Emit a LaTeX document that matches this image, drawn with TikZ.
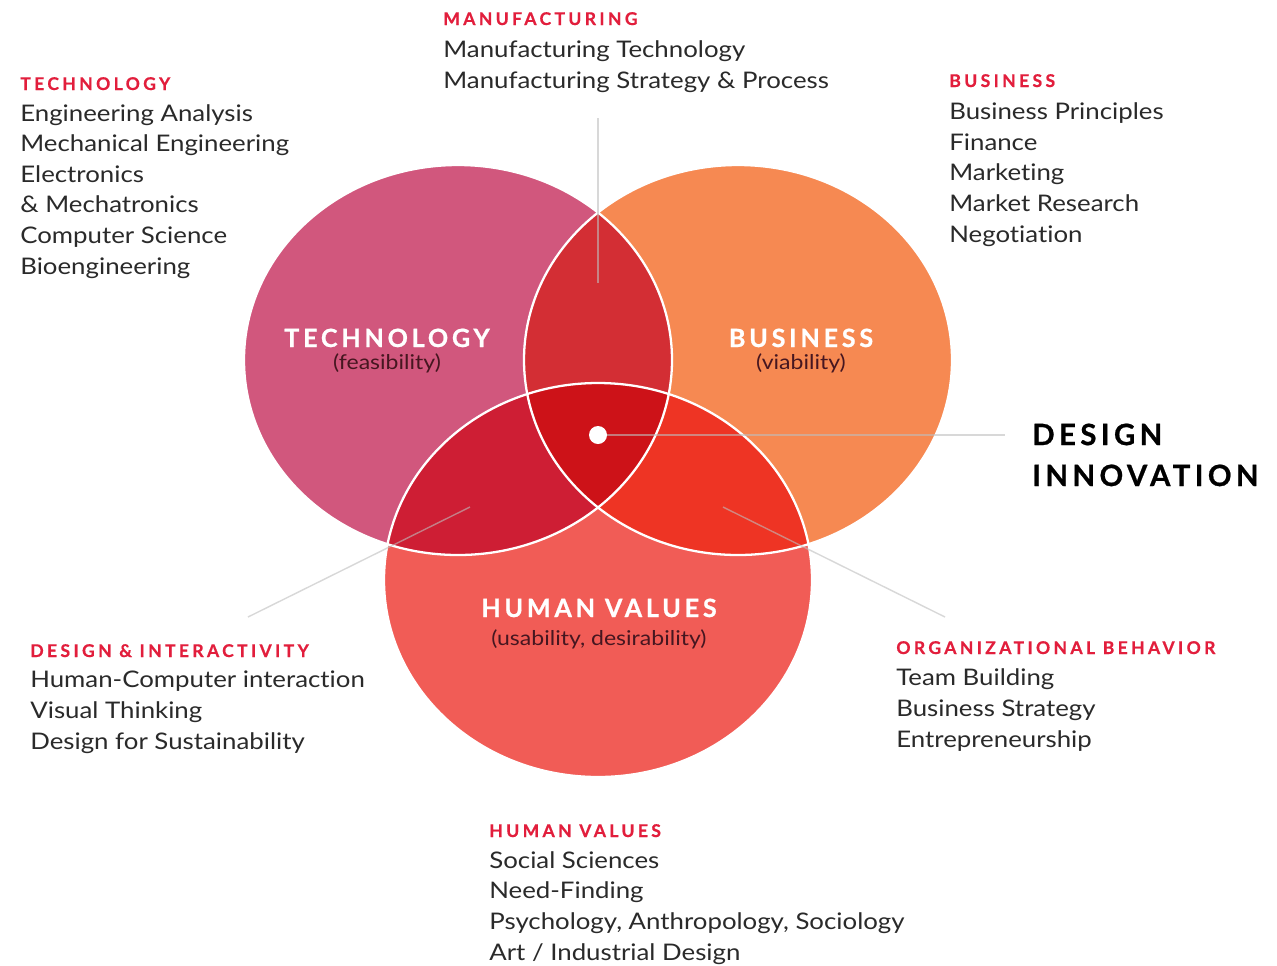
\documentclass[tikz,border=0pt]{standalone}
\usepackage{fontspec}
\setmainfont{Lato}[FakeStretch=1.13, Ligatures=NoCommon]
\newfontfamily\capsfont[LetterSpace=15, BoldFeatures={FakeBold=0.8}]{Lato}
\newfontfamily\hdrfont[LetterSpace=19, BoldFeatures={FakeBold=0.6}]{Lato}
\definecolor{techcol}{RGB}{209,87,125}
\definecolor{buscol}{RGB}{246,137,82}
\definecolor{humcol}{RGB}{241,92,86}
\definecolor{techbus}{RGB}{211,46,52}
\definecolor{techhum}{RGB}{206,30,52}
\definecolor{bushum}{RGB}{238,52,36}
\definecolor{corecol}{RGB}{205,18,24}
\definecolor{hdrred}{RGB}{226,30,60}
\definecolor{bodygrey}{RGB}{42,42,42}
\definecolor{subdark}{RGB}{70,22,32}
\definecolor{guidegrey}{RGB}{190,190,190}
\def\techshape{(458,360) ellipse (214 and 195)}
\def\busshape{(738,360) ellipse (214 and 195)}
\def\humshape{(598,580) ellipse (214 and 197)}
\tikzset{
  hdr/.style={anchor=base west, inner sep=0pt, text=hdrred, font=\hdrfont\bfseries\fontsize{10}{12}\selectfont},
  body/.style={anchor=base west, inner sep=0pt, align=left, text=bodygrey, font=\fontsize{13}{17.4}\selectfont},
  big/.style={anchor=base, inner sep=0pt, text=white, font=\capsfont\bfseries\fontsize{14.3}{16}\selectfont},
  sub/.style={anchor=base, inner sep=0pt, text=subdark, font=\fontsize{11.6}{14}\selectfont},
  guide/.style={draw=guidegrey, line width=0.8pt, opacity=0.6},
  rim/.style={draw=white, line width=1.3pt},
  dot/.style={circle, fill=white, minimum size=0.36cm, inner sep=0pt}
}
\begin{document}
\begin{tikzpicture}[x=0.02cm, y=-0.02cm]
			%%%%% START %%%%%
			\fill[white] (0,0) rectangle (1277,965);
			\useasboundingbox (0,0) rectangle (1277,965);
			
			% circles
			\fill[techcol] \techshape;
			\fill[buscol] \busshape;
			\fill[humcol] \humshape;
			
			% overlaps
			\begin{scope}
				\clip \techshape;
				\fill[techbus] \busshape;
				\fill[techhum] \humshape;
			\end{scope}
			\begin{scope}
				\clip \busshape;
				\fill[bushum] \humshape;
			\end{scope}
			\begin{scope}
				\clip \techshape;
				\clip \busshape;
				\fill[corecol] \humshape;
			\end{scope}
			
			\draw[rim] \techshape;
			\draw[rim] \busshape;
			\draw[rim] \humshape;
			
			% guide lines
			\coordinate (mfgtop) at (598,118);
			\coordinate (mfgend) at (598,283);
			\draw[guide] (mfgtop) -- (mfgend);
			
			\coordinate (desin) at (470,507);
			\coordinate (desout) at (248,617);
			\draw[guide] (desin) -- (desout);
			
			\coordinate (orgin) at (723,507);
			\coordinate (orgout) at (945,617);
			\draw[guide] (orgin) -- (orgout);
			
			\node[dot] (core) at (598,435) {};
			\coordinate (innov) at (1005,435);
			\draw[guide] (core) -- (innov);
			
			% labels in the circles
			\node[big] (techlbl) at (387,347) {TECHNOLOGY};
			\node[sub] (techsub) at (387,369) {(feasibility)};
			\node[big] (buslbl) at (801,347) {BUSINESS};
			\node[sub] (bussub) at (801,369) {(viability)};
			\node[big] (humlbl) at (599,617) {HUMAN VALUES};
			\node[sub] (humsub) at (599,645) {(usability, desirability)};
			
			% base of a list node = its last line
			\node[anchor=base west, inner sep=0pt, align=left, text=black,
				font=\capsfont\bfseries\fontsize{16.7}{23.3}\selectfont] (design) at (1032,486) {DESIGN\\INNOVATION};
			
			% course lists
			\node[hdr] (hdrtech) at (20,90) {TECHNOLOGY};
			\node[body] (techlist) at (20,274) {Engineering Analysis\\Mechanical Engineering\\Electronics\\\& Mechatronics\\Computer Science\\Bioengineering};
			
			\node[hdr] (hdrmfg) at (443,25) {MANUFACTURING};
			\node[body] (mfglist) at (443,88) {Manufacturing Technology\\Manufacturing Strategy \& Process};
			
			\node[hdr] (hdrbus) at (949,87) {BUSINESS};
			\node[body] (buslist) at (949,242) {Business Principles\\Finance\\Marketing\\Market Research\\Negotiation};
			
			\node[hdr] (hdrdes) at (30,657) {DESIGN \& INTERACTIVITY};
			\node[body] (deslist) at (30,749) {Human-Computer interaction\\Visual Thinking\\Design for Sustainability};
			
			\node[hdr] (hdrorg) at (896,654) {ORGANIZATIONAL BEHAVIOR};
			\node[body] (orglist) at (896,747) {Team Building\\Business Strategy\\Entrepreneurship};
			
			\node[hdr] (hdrhum) at (489,837) {HUMAN VALUES};
			\node[body] (humlist) at (489,960) {Social Sciences\\Need-Finding\\Psychology, Anthropology, Sociology\\Art / Industrial Design};
			%%%%% END %%%%%
\end{tikzpicture}
\end{document}
